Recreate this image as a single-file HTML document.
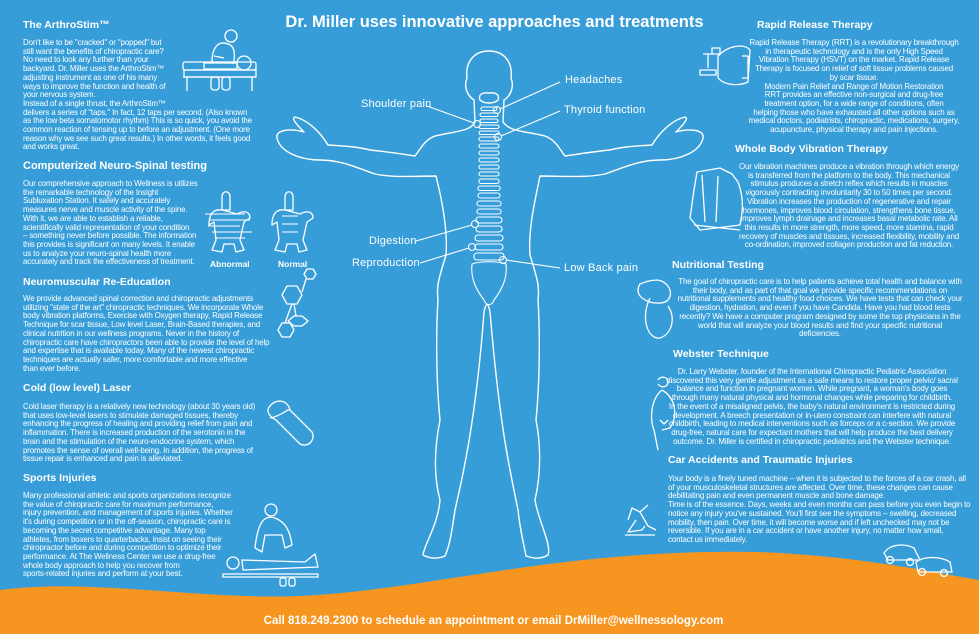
<!DOCTYPE html>
<html><head><meta charset="utf-8"><style>
html,body{margin:0;padding:0}
body{width:979px;height:634px;overflow:hidden;background:#379dd8;position:relative;font-family:"Liberation Sans",sans-serif;color:#fff}
svg{position:absolute;left:0;top:0}
.h{position:absolute;font-weight:bold;font-size:10.5px;white-space:nowrap;line-height:12px}
.t{position:absolute;font-size:7.95px;line-height:8.7px;white-space:nowrap;letter-spacing:-0.15px}
.c{text-align:center}
.lbl{position:absolute;font-size:11px;white-space:nowrap;line-height:12px;letter-spacing:0.2px}
</style></head><body>
<svg width="979" height="634" viewBox="0 0 979 634">
<path d="M0,590 C90,578 200,600 300,596 C430,590 560,548 760,552 C860,556 930,572 979,580 L979,634 L0,634 Z" fill="#f6951f"/>
<g fill="none" stroke="#fff" stroke-width="1.4" stroke-linejoin="round" stroke-linecap="round">
<path d="M474,100 C466,95 464,85 467,78 C465,62 474,51 489,51 C504,51 513,62 511,78 C514,85 512,95 504,100 L503,122 C510,132 525,131 545,136 C556,140 560,150 565,156 C572,155 590,152 610,150 C625,146 640,146 652,145 C660,132 672,120 685,117 C690,118 680,128 676,132 C690,128 705,130 703,138 C700,152 680,160 660,160 C640,160 625,167 605,174 C585,178 565,176 540,176 C535,200 528,230 530,255 C536,275 540,285 538,300 C540,330 540,380 536,420 C540,440 542,470 535,500 C538,520 552,545 548,555 C540,560 532,558 526,556 C524,545 520,530 518,510 C510,470 500,430 490,312 C488,302 486,302 484,312 C476,420 462,480 455,510 C452,530 450,545 445,556 C440,558 432,560 423,555 C424,545 438,525 440,500 C432,470 436,440 440,420 C436,380 436,330 438,300 C436,285 440,275 446,255 C448,230 442,200 436,176 C415,176 395,178 375,174 C355,167 340,160 320,160 C300,160 280,152 277,138 C275,130 290,128 304,132 C300,128 290,118 295,117 C308,120 320,132 328,145 C340,146 355,146 370,150 C390,152 408,155 415,156 C420,150 424,140 435,136 C455,131 470,132 475,122 Z"/>
<path d="M480,100 C478,95 482,92 489,93 C496,92 500,95 498,100 C494,104 484,104 480,100 Z"/>
</g>
<g fill="none" stroke="#fff" stroke-width="1.1">
<rect x="481" y="107" width="16" height="3.5" rx="1.7"/>
<rect x="480" y="113" width="18" height="3.5" rx="1.7"/>
<rect x="480" y="119" width="18" height="3.5" rx="1.7"/>
<rect x="479" y="125" width="20" height="3.5" rx="1.7"/>
<rect x="479" y="131" width="20" height="3.5" rx="1.7"/>
<rect x="479" y="137" width="20" height="4" rx="2"/>
<rect x="479" y="144" width="20" height="4" rx="2"/>
<rect x="479" y="151" width="20" height="4" rx="2"/>
<rect x="479" y="158" width="20" height="4" rx="2"/>
<rect x="479" y="165" width="20" height="4" rx="2"/>
<rect x="479" y="172" width="20" height="4" rx="2"/>
<rect x="479" y="179" width="20" height="4.5" rx="2"/>
<rect x="478" y="186" width="22" height="4.5" rx="2"/>
<rect x="478" y="193" width="22" height="5" rx="2.5"/>
<rect x="477" y="201" width="24" height="5" rx="2.5"/>
<rect x="477" y="209" width="24" height="5" rx="2.5"/>
<rect x="476" y="217" width="26" height="6" rx="3"/>
<rect x="476" y="226" width="26" height="6" rx="3"/>
<rect x="475" y="235" width="28" height="6" rx="3"/>
<rect x="475" y="244" width="28" height="6" rx="3"/>
<rect x="474" y="253" width="30" height="7" rx="3"/>
<path d="M472,264 C480,261 498,261 506,264 C508,280 500,292 494,300 C492,306 486,306 484,300 C478,292 470,280 472,264 Z"/>
<circle cx="497" cy="110" r="3.5"/><circle cx="477" cy="124" r="3.5"/><circle cx="498" cy="137" r="3.5"/>
<circle cx="475" cy="224" r="3.5"/><circle cx="472" cy="247" r="3.5"/><circle cx="503" cy="260" r="3.5"/>
</g>
<g stroke="#fff" stroke-width="1.1">
<line x1="500" y1="109" x2="560" y2="82"/><line x1="501" y1="136" x2="560" y2="111"/>
<line x1="427" y1="106" x2="474" y2="123"/><line x1="416" y1="241" x2="472" y2="225"/>
<line x1="420" y1="263" x2="469" y2="248"/><line x1="506" y1="260" x2="560" y2="268"/>
</g>
<g fill="none" stroke="#fff" stroke-width="1.3" stroke-linejoin="round">
<rect x="183" y="62" width="73" height="8" rx="2"/><line x1="183" y1="77" x2="256" y2="77"/><rect x="184" y="70" width="72" height="7"/>
<line x1="187" y1="77" x2="187" y2="91"/><line x1="252" y1="77" x2="252" y2="91"/><rect x="211" y="77" width="8" height="13" rx="3"/><rect x="222" y="77" width="8" height="13" rx="3"/>
<circle cx="244" cy="63" r="7"/><circle cx="231" cy="36" r="6"/><path d="M212,62 C212,48 218,40 228,44 C236,46 235,58 233,64 M214,56 L224,58"/><rect x="204" y="63" width="33" height="6"/>
<path d="M209,225 C209,210 217,208 226,211 L237,214 C245,210 250,212 250,218 L244,222 L240,240 L244,250 L236,252 L234,244 L224,244 L222,252 L212,250 L216,240 L214,222 Z M222,197 C222,190 230,190 230,197 L230,210 L222,210 Z"/>
<path d="M272,225 C272,210 280,208 289,211 L300,214 C308,210 313,212 313,218 L307,222 L303,240 L307,250 L299,252 L297,244 L287,244 L285,252 L275,250 L279,240 L277,222 Z M285,197 C285,190 293,190 293,197 L293,210 L285,210 Z"/>
<g stroke-width="1"><line x1="205" y1="214" x2="245" y2="214"/><line x1="210" y1="220" x2="250" y2="220"/><line x1="208" y1="226" x2="240" y2="226"/><line x1="212" y1="232" x2="252" y2="232"/><line x1="215" y1="238" x2="245" y2="238"/><line x1="282" y1="216" x2="298" y2="216"/><line x1="282" y1="224" x2="298" y2="224"/><line x1="282" y1="232" x2="298" y2="232"/></g>
<path d="M288,321 l6,-5 h8 l6,5 l-6,5 h-8 z"/><path d="M282,295 l5,-9 h10 l5,9 l-5,9 h-10 z"/><path d="M304,274 l3,-5 h6 l3,5 l-3,5 h-6 z"/><path d="M278,330 l4,-7 h8 l4,7 l-4,7 h-8 z"/>
<line x1="302" y1="292" x2="306" y2="279"/><line x1="294" y1="304" x2="296" y2="316"/><line x1="292" y1="304" x2="285" y2="323"/>
<path d="M270,406 C276,398 288,400 290,410 L312,432 C316,440 308,448 300,444 L276,420 C268,416 266,410 270,406 Z M270,418 C282,416 288,408 290,410"/>
<rect x="223" y="574" width="95" height="3"/>
<path d="M242,560 L305,562 L315,554 L318,567 L243,570 Z"/><circle cx="233" cy="563" r="6"/><path d="M255,548 C258,520 265,515 275,518 C285,522 290,530 292,545 L285,548 L282,535 L265,535 L262,552 Z"/><circle cx="271" cy="510" r="6"/><rect x="280" y="578" width="6" height="8" rx="2"/><rect x="289" y="578" width="6" height="8" rx="2"/>
<path d="M703,54 h10 M708,54 v14 M700,70 h16 v5 h-16 z M712,48 h8 v6 h-8 z M718,56 C730,44 745,44 750,50 L748,82 C740,86 725,86 718,78 Z M742,56 h6 v22 h-6"/>
<path d="M697,172 L720,168 L732,174 L738,182 C745,200 742,215 740,225 L700,230 L690,218 L694,190 Z M694,225 L740,230 M702,175 L705,222 M718,176 L716,222"/>
<path d="M640,284 C630,300 660,308 668,300 C674,292 668,282 658,280 C650,280 645,282 640,284 Z M650,298 C640,318 648,340 660,338 C672,334 676,318 668,306"/>
<path d="M658,380 C660,376 668,376 668,382 C668,388 660,388 658,384 M662,390 C650,400 650,420 654,430 L658,450 M662,390 C676,398 678,416 670,428 L662,430 M660,420 l4,4 l4,-4"/>
<path d="M628,520 L632,508 L640,512 L648,526 L656,530 M640,512 L648,505 M636,520 L628,532 L642,530 L645,526 M625,535 L655,535"/>
<path d="M884,553 C890,544 904,543 914,548 L920,560 L888,560 Z M916,562 C924,556 940,556 950,562 L952,572 L918,572 Z"/>
<circle cx="890" cy="560" r="3.5"/><circle cx="910" cy="562" r="3.5"/><circle cx="922" cy="572" r="3.5"/><circle cx="944" cy="573" r="3.5"/>
</g>
</svg>

<div class="h" style="left:0;width:979px;top:16px;font-size:16.5px;text-align:center;padding-left:10px;box-sizing:border-box">Dr. Miller uses innovative approaches and treatments</div>

<div class="lbl" style="left:361px;top:98px">Shoulder pain</div>
<div class="lbl" style="left:565px;top:74px">Headaches</div>
<div class="lbl" style="left:564px;top:104px">Thyroid function</div>
<div class="lbl" style="left:369px;top:235px">Digestion</div>
<div class="lbl" style="left:352px;top:257px">Reproduction</div>
<div class="lbl" style="left:564px;top:262px">Low Back pain</div>

<div class="h" style="left:23px;top:19px">The ArthroStim™</div>
<div class="t" style="left:23px;top:39px">Don't like to be "cracked" or "popped" but<br>still want the benefits of chiropractic care?<br>No need to look any further than your<br>backyard. Dr. Miller uses the ArthroStim™<br>adjusting instrument as one of his many<br>ways to improve the function and health of<br>your nervous system.<br>Instead of a single thrust, the ArthroStim™<br>delivers a series of "taps." In fact, 12 taps per second. (Also known<br>as the low beta somatomotor rhythm) This is so quick, you avoid the<br>common reaction of tensing up to before an adjustment. (One more<br>reason why we see such great results.) In other words, it feels good<br>and works great.</div>

<div class="h" style="left:23px;top:160px;font-size:11px">Computerized Neuro-Spinal testing</div>
<div class="t" style="left:23px;top:180px">Our comprehensive approach to Wellness is utilizes<br>the remarkable technology of the Insight<br>Subluxation Station. It safely and accurately<br>measures nerve and muscle activity of the spine.<br>With it, we are able to establish a reliable,<br>scientifically valid representation of your condition<br>– something never before possible. The information<br>this provides is significant on many levels. It enable<br>us to analyze your neuro-spinal health more<br>accurately and track the effectiveness of treatment.</div>
<div class="h" style="left:210px;top:258px;font-size:8.5px">Abnormal</div>
<div class="h" style="left:278px;top:258px;font-size:8.5px">Normal</div>

<div class="h" style="left:23px;top:276px">Neuromuscular Re-Education</div>
<div class="t" style="left:23px;top:295px">We provide advanced spinal correction and chiropractic adjustments<br>utilizing "state of the art" chiropractic techniques. We incorporate Whole<br>body vibration platforms, Exercise with Oxygen therapy, Rapid Release<br>Technique for scar tissue, Low level Laser, Brain-Based therapies, and<br>clinical nutrition in our wellness programs. Never in the history of<br>chiropractic care have chiropractors been able to provide the level of help<br>and expertise that is available today. Many of the newest chiropractic<br>techniques are actually safer, more comfortable and more effective<br>than ever before.</div>

<div class="h" style="left:23px;top:382px">Cold (low level) Laser</div>
<div class="t" style="left:23px;top:403px">Cold laser therapy is a relatively new technology (about 30 years old)<br>that uses low-level lasers to stimulate damaged tissues, thereby<br>enhancing the progress of healing and providing relief from pain and<br>inflammation. There is increased production of the serotonin in the<br>brain and the stimulation of the neuro-endocrine system, which<br>promotes the sense of overall well-being. In addition, the progress of<br>tissue repair is enhanced and pain is alleviated.</div>

<div class="h" style="left:23px;top:472px">Sports Injuries</div>
<div class="t" style="left:23px;top:492px">Many professional athletic and sports organizations recognize<br>the value of chiropractic care for maximum performance,<br>injury prevention, and management of sports injuries. Whether<br>it's during competition or in the off-season, chiropractic care is<br>becoming the secret competitive advantage. Many top<br>athletes, from boxers to quarterbacks, insist on seeing their<br>chiropractor before and during competition to optimize their<br>performance. At The Wellness Center we use a drug-free<br>whole body approach to help you recover from<br>sports-related injuries and perform at your best.</div>

<div class="h" style="left:757px;top:19px">Rapid Release Therapy</div>
<div class="t c" style="left:738px;width:232px;top:39px">Rapid Release Therapy (RRT) is a revolutionary breakthrough<br>in therapeutic technology and is the only High Speed<br>Vibration Therapy (HSVT) on the market. Rapid Release<br>Therapy is focused on relief of soft tissue problems caused<br>by scar tissue.<br>Modern Pain Relief and Range of Motion Restoration<br>RRT provides an effective non-surgical and drug-free<br>treatment option, for a wide range of conditions, often<br>helping those who have exhausted all other options such as<br>medical doctors, podiatrists, chiropractic, medications, surgery,<br>acupuncture, physical therapy and pain injections.</div>

<div class="h" style="left:735px;top:143px">Whole Body Vibration Therapy</div>
<div class="t c" style="left:728px;width:242px;top:163px">Our vibration machines produce a vibration through which energy<br>is transferred from the platform to the body. This mechanical<br>stimulus produces a stretch reflex which results in muscles<br>vigorously contracting involuntarily 30 to 50 times per second.<br>Vibration increases the production of regenerative and repair<br>hormones, improves blood circulation, strengthens bone tissue,<br>improves lymph drainage and increases basal metabolic rate. All<br>this results in more strength, more speed, more stamina, rapid<br>recovery of muscles and tissues, increased flexibility, mobility and<br>co-ordination, improved collagen production and fat reduction.</div>

<div class="h" style="left:672px;top:259px">Nutritional Testing</div>
<div class="t c" style="left:670px;width:300px;top:278px">The goal of chiropractic care is to help patients achieve total health and balance with<br>their body, and as part of that goal we provide specific recommendations on<br>nutritional supplements and healthy food choices. We have tests that can check your<br>digestion, hydration, and even if you have Candida. Have you had blood tests<br>recently? We have a computer program designed by some the top physicians in the<br>world that will analyze your blood results and find your specific nutritional<br>deficiencies.</div>

<div class="h" style="left:673px;top:348px">Webster Technique</div>
<div class="t c" style="left:654px;width:316px;top:368px">Dr. Larry Webster, founder of the International Chiropractic Pediatric Association<br>discovered this very gentle adjustment as a safe means to restore proper pelvic/ sacral<br>balance and function in pregnant women. While pregnant, a woman's body goes<br>through many natural physical and hormonal changes while preparing for childbirth.<br>In the event of a misaligned pelvis, the baby's natural environment is restricted during<br>development. A breech presentation or in-utero constraint can interfere with natural<br>childbirth, leading to medical interventions such as forceps or a c-section. We provide<br>drug-free, natural care for expectant mothers that will help produce the best delivery<br>outcome. Dr. Miller is certified in chiropractic pediatrics and the Webster technique.</div>

<div class="h" style="left:668px;top:454px">Car Accidents and Traumatic Injuries</div>
<div class="t" style="left:668px;top:475px">Your body is a finely tuned machine – when it is subjected to the forces of a car crash, all<br>of your musculoskeletal structures are affected. Over time, these changes can cause<br>debilitating pain and even permanent muscle and bone damage.<br>Time is of the essence. Days, weeks and even months can pass before you even begin to<br>notice any injury you've sustained. You'll first see the symptoms – swelling, decreased<br>mobility, then pain. Over time, it will become worse and if left unchecked may not be<br>reversible. If you are in a car accident or have another injury, no matter how small,<br>contact us immediately.</div>

<div class="h" style="left:0;width:979px;text-align:center;top:615px;font-size:11.5px;padding-left:8px;box-sizing:border-box">Call 818.249.2300 to schedule an appointment or email DrMiller@wellnessology.com</div>
</body></html>
